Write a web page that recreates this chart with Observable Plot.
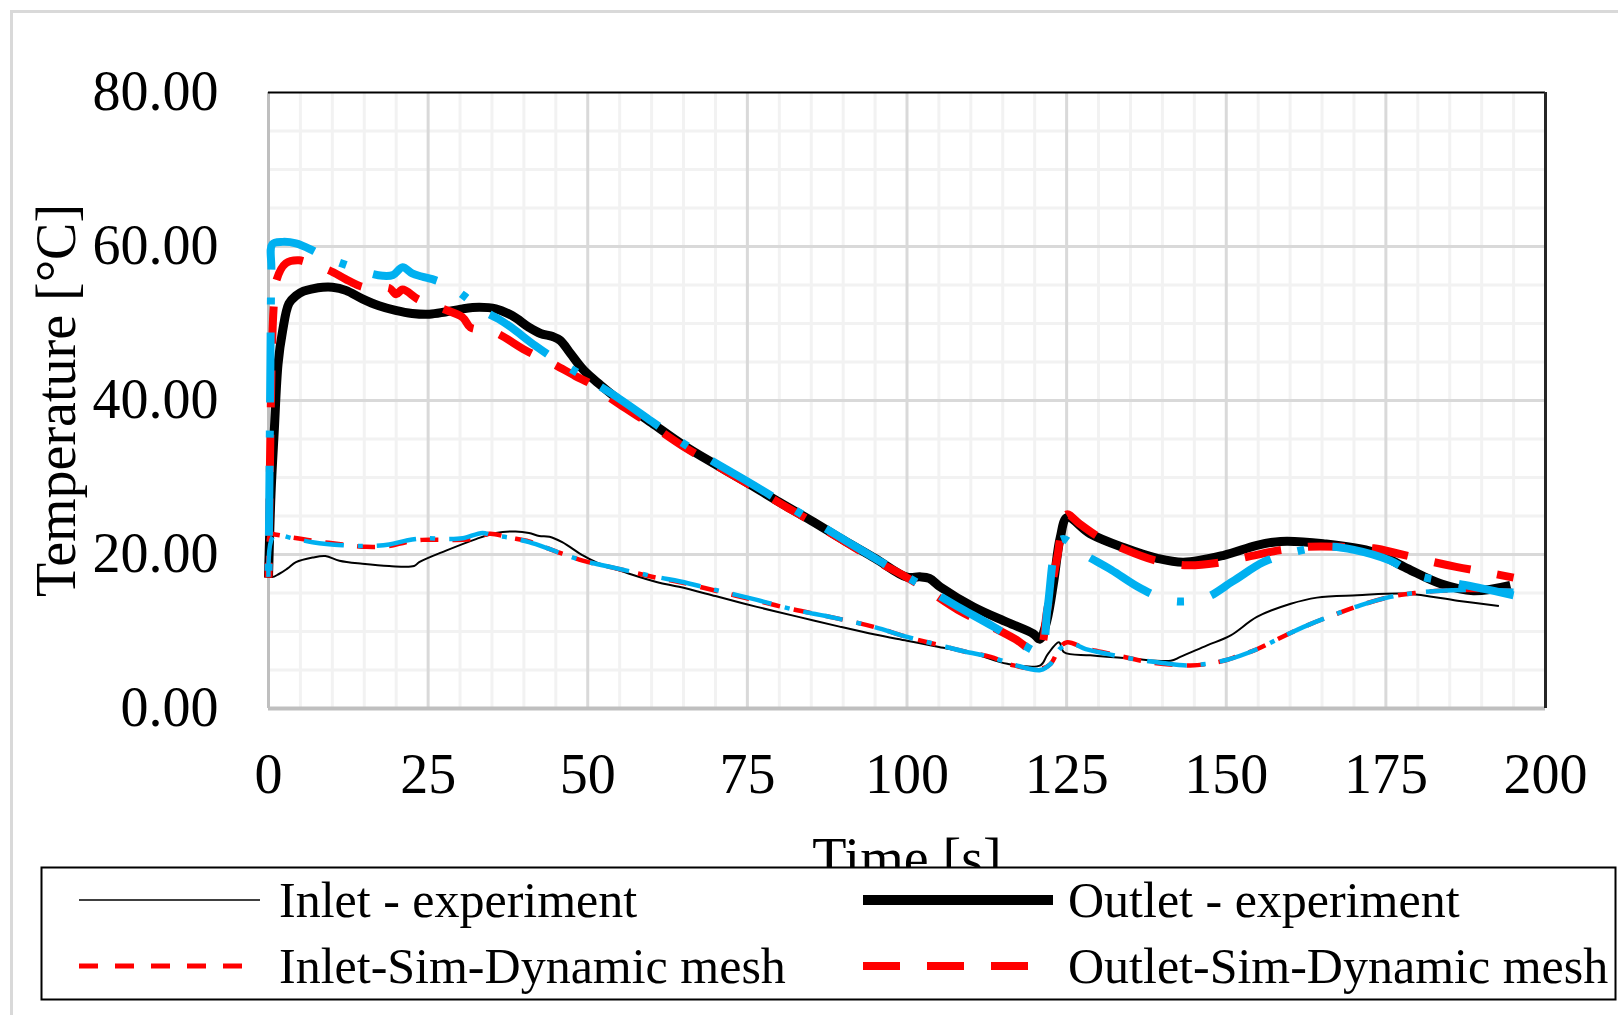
<!DOCTYPE html>
<html>
<head>
<meta charset="utf-8">
<script src="https://cdn.jsdelivr.net/npm/d3@7"></script>
<script src="https://cdn.jsdelivr.net/npm/@observablehq/plot@0.6"></script>
<style>
  body { margin: 0; background: #fff; }
  #wrap { position: relative; width: 1618px; height: 1015px; overflow: hidden; background: #fff; }
  #frame { position: absolute; left: 10px; top: 10px; width: 1700px; height: 1100px;
           border-left: 3px solid #d9d9d9; border-top: 3px solid #d9d9d9; pointer-events: none; }
  #legend { position: absolute; left: 40px; top: 866px; }
</style>
</head>
<body>
<div id="wrap">
  <div id="chart"></div>
  <div id="frame"></div>
  <svg id="legend" width="1578" height="136"></svg>
</div>
<script>
// ---- ticks / labels ----
const xTickValues = [0, 25, 50, 75, 100, 125, 150, 175, 200];
const yTickValues = [0, 20, 40, 60, 80];
const xTitle = "Time [s]";
const yTitle = "Temperature [°C]";
const legendLabels = ["Inlet - experiment", "Outlet - experiment", "Inlet-Sim-Dynamic mesh", "Outlet-Sim-Dynamic mesh"];

// ---- series: Inlet - experiment ----
const inletExpTime = [0, 0.4, 1.7, 3, 4.3, 6.9, 8.9, 11.1, 14.7, 18.9, 22.8, 23.6, 27.8, 32.5, 35.6, 38.7, 40.8, 42.4, 44, 46, 49.2, 51.3, 56.5, 60.9, 64.3, 70, 76.5, 83, 89.6, 95, 100, 105, 110.5, 115.7, 120.9, 122, 123.8, 124.6, 128.7, 135, 141.3, 142.8, 147, 150.7, 154.8, 160.1, 164.2, 170.5, 178.3, 186.2, 192.7];
const inletExpTemp = [22.3, 17.1, 17.5, 18.2, 19, 19.6, 19.8, 19.2, 18.8, 18.5, 18.5, 19, 20.5, 22, 22.8, 23, 22.8, 22.4, 22.3, 21.6, 19.9, 19, 17.5, 16.4, 15.8, 14.6, 13.2, 11.9, 10.6, 9.6, 8.8, 8, 7.1, 5.8, 5.6, 7, 8.6, 7.3, 6.9, 6.5, 6.2, 6.7, 8.2, 9.5, 11.9, 13.6, 14.4, 14.7, 14.9, 14, 13.3];

// ---- series: Outlet - experiment ----
const outletExpTime = [0, 0.4, 0.9, 1.5, 2.2, 3.2, 4.3, 5.5, 6.9, 8.5, 10, 12.1, 14.7, 17.3, 19.9, 22.5, 25.2, 27.7, 30.4, 33, 35.6, 38.2, 40.8, 42.6, 44.5, 45.7, 47.3, 49.4, 52, 55, 60, 65, 70, 75, 80, 85, 90, 95, 100, 102, 103.5, 105.2, 110.4, 115.7, 119.8, 120.8, 121.9, 123, 124, 125.1, 128.7, 133.9, 139.2, 143.3, 149.6, 154.8, 158.5, 165.2, 173.1, 178.3, 183.6, 188.7, 194.5];
const outletExpTemp = [17, 28, 36, 44.8, 49, 52.6, 53.6, 54.2, 54.5, 54.7, 54.7, 54.3, 53.2, 52.3, 51.7, 51.3, 51.2, 51.5, 51.9, 52.1, 51.9, 51, 49.5, 48.7, 48.3, 47.8, 46.1, 43.9, 42, 40, 37.1, 34.2, 31.7, 29.3, 26.8, 24.4, 21.9, 19.5, 17.05, 17.1, 16.9, 15.8, 13.2, 11.2, 9.7, 9.0, 11.4, 16.6, 22.2, 24.8, 22.7, 20.9, 19.5, 19, 19.9, 21.2, 21.7, 21.4, 20.3, 18.2, 16.2, 15.3, 16];

// ---- series: Inlet-Sim-Dynamic mesh ----
const inletDynTime = [0, 0.3, 1, 3.8, 6.9, 11.6, 15.2, 18.9, 21.5, 24.1, 27, 30.4, 32.5, 34.6, 37.7, 40.8, 43.4, 46, 49.2, 53.4, 60.7, 64.5, 70, 76.5, 82, 88.5, 94.8, 100, 105.2, 109, 113.1, 116.7, 120.9, 122.5, 124, 125.1, 128, 131.9, 138.1, 144.4, 148.6, 151.5, 154.8, 158.5, 162.7, 167, 171, 175.7, 179.5, 183.6, 189, 195];
const inletDynTemp = [17.5, 22.7, 22.6, 22.2, 21.8, 21.3, 21, 21.1, 21.6, 21.9, 21.9, 21.9, 22.1, 22.7, 22.2, 21.7, 20.9, 20.1, 19.2, 18.4, 17, 16.4, 15.3, 14, 12.9, 11.8, 10.6, 9.3, 8.2, 7.4, 6.7, 5.6, 5.15, 5.8, 8, 8.6, 7.8, 7.1, 6, 5.6, 6, 6.7, 7.7, 9.2, 10.8, 12.2, 13.4, 14.5, 15, 15.3, 15.4, 15.3];

// ---- series: Outlet-Sim-Dynamic mesh ----
const outletDynTime = [0, 0.2, 0.5, 0.8, 1.2, 2.7, 4.8, 7, 9.5, 12, 14.2, 16.5, 18.9, 20, 21, 23.3, 25, 27.3, 30.4, 31.6, 33.5, 35.6, 40.3, 44.5, 48, 50.4, 52.5, 55, 60, 65, 70, 75, 80, 85, 90, 95, 100, 103, 108, 113.6, 117, 120.5, 122, 123.5, 125, 127, 130, 134, 139, 143.9, 148.5, 153.3, 158, 162.7, 168, 173.1, 177, 181.5, 186, 191.9, 195];
const outletDynTemp = [17, 30, 45, 52, 55.5, 57.8, 58.2, 57.6, 56.9, 55.8, 54.9, 54.5, 54.6, 53.8, 54.4, 53.2, 52.6, 51.9, 50.8, 49.5, 49.2, 48.8, 46.5, 44.8, 43.2, 42.2, 40.9, 39.5, 36.8, 34, 31.6, 29.2, 26.7, 24.3, 21.8, 19.3, 17, 15.5, 12.8, 10.5, 9, 7.3, 13, 19.5, 25.2, 24, 22.3, 20.7, 19.2, 18.6, 18.9, 19.7, 20.5, 21, 21, 20.8, 20.1, 19.2, 18.4, 17.5, 17];

// ---- series: Inlet sim (blue, not in legend) ----
const inletBlueTime = [0, 0.8, 3.8, 6.9, 11.6, 15.2, 18.9, 21.5, 24.1, 28, 30.4, 33.5, 35, 37.7, 40.8, 43.4, 46, 49.2, 53.4, 60.7, 64.5, 70, 76.5, 82, 88.5, 94.8, 100, 105.2, 109, 113.1, 116.7, 120.9, 122.5, 124, 125.9, 128, 131.9, 135, 140, 144.4, 150, 154.8, 158.5, 162.7, 167, 171, 175.7, 179.5, 183.6, 189, 195];
const inletBlueTemp = [17.1, 22.4, 22.1, 21.6, 21.2, 21.1, 21.3, 21.8, 22.1, 22, 22.1, 22.8, 22.5, 22.2, 21.6, 20.9, 20.1, 19.2, 18.4, 17.1, 16.5, 15.4, 14.1, 12.9, 11.8, 10.6, 9.3, 8.2, 7.4, 6.7, 5.7, 5.0, 5.8, 7.8, 8.4, 7.7, 7, 6.5, 5.9, 5.6, 6.3, 7.7, 9.2, 10.8, 12.2, 13.4, 14.5, 15, 15.3, 15.4, 15.3];

// ---- series: Outlet sim (blue, not in legend) ----
const outletBlueTime = [0, 0.15, 0.3, 0.45, 0.6, 2.2, 4.3, 6.9, 8.5, 10.5, 13.2, 16, 17.9, 19.5, 21, 22.5, 24, 26.2, 28.5, 30.6, 33.5, 36, 38, 41.8, 45, 48, 50.4, 55, 60, 65, 70, 75, 80, 85, 90, 95, 100, 103.7, 108, 113.6, 118.3, 120.9, 122, 123.5, 124.5, 127.2, 132, 136.6, 141.3, 146.5, 151, 155.8, 160.5, 165.8, 170, 175.7, 179.9, 185.1, 190, 195];
const outletBlueTemp = [17, 30, 45, 57, 60.3, 60.6, 60.4, 59.5, 58.8, 58.1, 57.3, 56.5, 56.2, 56.3, 57.3, 56.5, 56.1, 55.6, 54.8, 53.6, 51.7, 50.6, 49.5, 47.1, 45.3, 43.8, 42.6, 40.2, 37.3, 34.4, 31.9, 29.5, 27, 24.5, 22, 19.5, 17.1, 15.3, 13.2, 10.6, 8.2, 7.4, 13, 21.4, 22, 20.3, 18, 15.6, 14, 14.3, 16.5, 19, 20.3, 21, 20.6, 19.2, 17.3, 16.4, 15.6, 14.7];

const rows = (ts, vs) => ts.map((t, i) => ({t, v: vs[i]}));
const xMinorValues = d3.range(5, 200, 5).filter(v => v % 25 !== 0);
const yMinorValues = d3.range(5, 80, 5).filter(v => v % 20 !== 0);

const FONT = "'Liberation Serif', 'Times New Roman', serif";
const RED = "#ff0000", BLUE = "#00b0f0";

const lineOpts = (stroke, strokeWidth, dash, offset = 0) => ({
  x: "t", y: "v", stroke, strokeWidth, strokeDasharray: dash, strokeDashoffset: offset,
  strokeLinecap: "butt", strokeLinejoin: "round", curve: "catmull-rom"
});

const chart = Plot.plot({
  width: 1618, height: 1015,
  marginLeft: 268, marginRight: 73, marginTop: 92, marginBottom: 307,
  x: {domain: [0, 200]},
  y: {domain: [0, 80]},
  style: {fontFamily: FONT, fontSize: "56px", background: "white", overflow: "visible"},
  marks: [
    Plot.ruleX(xMinorValues, {stroke: "#f2f2f2", strokeWidth: 3}),
    Plot.ruleY(yMinorValues, {stroke: "#f2f2f2", strokeWidth: 3}),
    Plot.ruleX(xTickValues.slice(1, -1), {stroke: "#d9d9d9", strokeWidth: 3}),
    Plot.ruleY(yTickValues.slice(1, -1), {stroke: "#d9d9d9", strokeWidth: 3}),
    Plot.ruleX([0], {stroke: "#bfbfbf", strokeWidth: 3}),
    Plot.ruleY([0], {stroke: "#bfbfbf", strokeWidth: 4}),
    Plot.ruleY([80], {stroke: "#000", strokeWidth: 2}),
    Plot.ruleX([200], {stroke: "#262626", strokeWidth: 3}),
    Plot.axisX(xTickValues, {tickSize: 0, tickPadding: 45, fontSize: 56, label: null}),
    Plot.axisY(yTickValues, {tickSize: 0, tickPadding: 50, fontSize: 56, label: null, tickFormat: d => d.toFixed(2)}),
    Plot.line(rows(inletExpTime, inletExpTemp), lineOpts("#000", 2)),
    Plot.line(rows(outletExpTime, outletExpTemp), lineOpts("#000", 9)),
    Plot.line(rows(outletDynTime, outletDynTemp), lineOpts(RED, 8, "37,27", 22)),
    Plot.line(rows(inletDynTime, inletDynTemp), lineOpts(RED, 4.5, "18,14")),
    Plot.line(rows(outletBlueTime, outletBlueTemp), lineOpts(BLUE, 8, "70,28,7,28", 91)),
    Plot.line(rows(inletBlueTime, inletBlueTemp), lineOpts(BLUE, 4.5, "40,14,5,14")),
    Plot.text([yTitle], {frameAnchor: "left", dx: -211, rotate: -90, textAnchor: "middle", lineAnchor: "middle", fontSize: 56, fill: "#000"}),
    Plot.text([xTitle], {frameAnchor: "bottom", dy: 151, textAnchor: "middle", lineAnchor: "middle", fontSize: 56, fill: "#000"})
  ]
});
document.getElementById("chart").appendChild(chart);

// ---- legend (overlays the bottom of the chart, as in the original) ----
const lg = d3.select("#legend");
lg.append("rect").attr("x", 1.5).attr("y", 1.5).attr("width", 1574).attr("height", 132)
  .attr("fill", "#fff").attr("stroke", "#000").attr("stroke-width", 2);
const legendStyles = [
  {stroke: "#000", width: 1.7, dash: null, x1: 39, x2: 220},
  {stroke: "#000", width: 10, dash: null, x1: 823, x2: 1013},
  {stroke: RED, width: 5, dash: "19,17", x1: 39, x2: 208},
  {stroke: RED, width: 8, dash: "37,27", x1: 823, x2: 989}
];
const textX = [239, 1028, 239, 1028];
const rowY = [34, 34, 100, 100];
legendLabels.forEach((label, i) => {
  const s = legendStyles[i];
  lg.append("line").attr("x1", s.x1).attr("x2", s.x2).attr("y1", rowY[i]).attr("y2", rowY[i])
    .attr("stroke", s.stroke).attr("stroke-width", s.width)
    .attr("stroke-dasharray", s.dash).attr("stroke-linecap", "butt");
  lg.append("text").attr("x", textX[i]).attr("y", rowY[i] + 17)
    .attr("font-family", FONT).attr("font-size", 50).attr("fill", "#000").text(label);
});
</script>
</body>
</html>
